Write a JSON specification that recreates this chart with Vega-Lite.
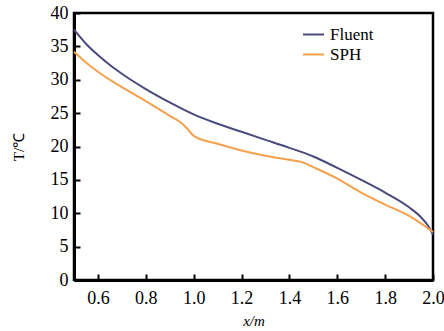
{
  "$schema": "https://vega.github.io/schema/vega-lite/v6.json",
  "width": 359,
  "height": 267,
  "autosize": "none",
  "padding": {"left": 74, "top": 13, "right": 11, "bottom": 51},
  "background": "white",
  "config": {
    "view": {"stroke": "black", "strokeWidth": 2.5},
    "font": "Liberation Serif",
    "axis": {"labelFont": "Liberation Serif", "titleFont": "Liberation Serif"},
    "legend": {"labelFont": "Liberation Serif"}
  },
  "data": {
    "values": [
      {"x": 0.5, "T": 37.5, "s": "Fluent"},
      {"x": 0.55, "T": 35.4, "s": "Fluent"},
      {"x": 0.6, "T": 33.7, "s": "Fluent"},
      {"x": 0.65, "T": 32.2, "s": "Fluent"},
      {"x": 0.7, "T": 30.9, "s": "Fluent"},
      {"x": 0.8, "T": 28.6, "s": "Fluent"},
      {"x": 0.9, "T": 26.6, "s": "Fluent"},
      {"x": 1.0, "T": 24.8, "s": "Fluent"},
      {"x": 1.1, "T": 23.4, "s": "Fluent"},
      {"x": 1.2, "T": 22.2, "s": "Fluent"},
      {"x": 1.3, "T": 21.0, "s": "Fluent"},
      {"x": 1.4, "T": 19.8, "s": "Fluent"},
      {"x": 1.5, "T": 18.5, "s": "Fluent"},
      {"x": 1.6, "T": 16.8, "s": "Fluent"},
      {"x": 1.7, "T": 15.0, "s": "Fluent"},
      {"x": 1.8, "T": 13.1, "s": "Fluent"},
      {"x": 1.9, "T": 10.9, "s": "Fluent"},
      {"x": 1.95, "T": 9.4, "s": "Fluent"},
      {"x": 1.98, "T": 8.1, "s": "Fluent"},
      {"x": 2.0, "T": 6.8, "s": "Fluent"},
      {"x": 0.5, "T": 34.2, "s": "SPH"},
      {"x": 0.55, "T": 32.6, "s": "SPH"},
      {"x": 0.6, "T": 31.2, "s": "SPH"},
      {"x": 0.7, "T": 28.9, "s": "SPH"},
      {"x": 0.8, "T": 26.8, "s": "SPH"},
      {"x": 0.9, "T": 24.6, "s": "SPH"},
      {"x": 0.95, "T": 23.5, "s": "SPH"},
      {"x": 0.97, "T": 22.8, "s": "SPH"},
      {"x": 1.0, "T": 21.6, "s": "SPH"},
      {"x": 1.1, "T": 20.4, "s": "SPH"},
      {"x": 1.2, "T": 19.4, "s": "SPH"},
      {"x": 1.3, "T": 18.6, "s": "SPH"},
      {"x": 1.4, "T": 18.0, "s": "SPH"},
      {"x": 1.45, "T": 17.7, "s": "SPH"},
      {"x": 1.5, "T": 16.9, "s": "SPH"},
      {"x": 1.6, "T": 15.2, "s": "SPH"},
      {"x": 1.7, "T": 13.1, "s": "SPH"},
      {"x": 1.8, "T": 11.3, "s": "SPH"},
      {"x": 1.9, "T": 9.6, "s": "SPH"},
      {"x": 2.0, "T": 7.2, "s": "SPH"}
    ]
  },
  "mark": {"type": "line", "strokeWidth": 2, "interpolate": "monotone"},
  "encoding": {
    "x": {
      "field": "x", "type": "quantitative",
      "scale": {"domain": [0.5, 2.0], "nice": false, "zero": false},
      "axis": {
        "title": "x/m", "titleFont": "Liberation Serif", "titleFontSize": 15, "titleFontWeight": "normal", "titleFontStyle": "italic", "titleColor": "black", "titlePadding": 6,
        "values": [0.6, 0.8, 1.0, 1.2, 1.4, 1.6, 1.8, 2.0], "format": ".1f",
        "labelFont": "Liberation Serif", "labelFontSize": 18, "labelColor": "black", "labelPadding": 15,
        "domainColor": "black", "domainWidth": 3, "tickColor": "black", "tickWidth": 2, "tickSize": -6,
        "grid": false, "labelFlush": false, "labelOverlap": false
      }
    },
    "y": {
      "field": "T", "type": "quantitative",
      "scale": {"domain": [0, 40], "nice": false},
      "axis": {
        "title": "T/℃", "titleFont": "Liberation Serif", "titleFontSize": 15, "titleFontWeight": "normal", "titleColor": "black", "titlePadding": 24,
        "values": [0, 5, 10, 15, 20, 25, 30, 35, 40],
        "labelFont": "Liberation Serif", "labelFontSize": 18, "labelColor": "black", "labelPadding": 12,
        "domainColor": "black", "domainWidth": 3, "tickColor": "black", "tickWidth": 2, "tickSize": -6,
        "grid": false, "labelFlush": false, "labelOverlap": false
      }
    },
    "color": {
      "field": "s", "type": "nominal",
      "scale": {"domain": ["Fluent", "SPH"], "range": ["#4b4a7c", "#f5a04c"]},
      "legend": {
        "title": null, "orient": "none", "legendX": 228, "legendY": 10,
        "symbolType": "stroke", "symbolSize": 441, "symbolStrokeWidth": 2,
        "labelFont": "Liberation Serif", "labelFontSize": 17, "labelColor": "black",
        "rowPadding": -4, "labelOffset": 5
      }
    }
  }
}
